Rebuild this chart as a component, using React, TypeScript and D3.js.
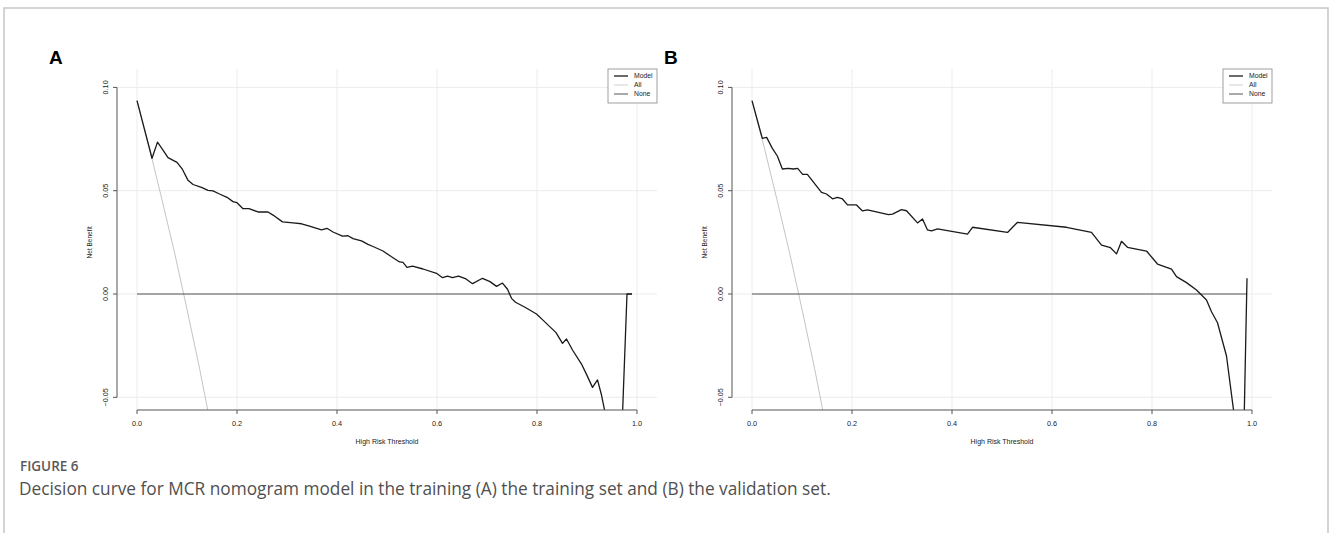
import { useEffect, useRef } from 'react';
import * as d3 from 'd3';

// thresholds / net benefit
const modelAT = [0, 0.03, 0.041, 0.051, 0.062, 0.08, 0.091, 0.102, 0.112, 0.129, 0.142, 0.152, 0.165, 0.18, 0.192, 0.2, 0.212, 0.224, 0.242, 0.262, 0.272, 0.291, 0.312, 0.329, 0.345, 0.369, 0.38, 0.392, 0.411, 0.422, 0.432, 0.449, 0.462, 0.472, 0.492, 0.509, 0.525, 0.532, 0.54, 0.551, 0.572, 0.599, 0.611, 0.621, 0.631, 0.643, 0.658, 0.671, 0.691, 0.706, 0.719, 0.731, 0.741, 0.749, 0.757, 0.776, 0.799, 0.813, 0.838, 0.851, 0.859, 0.871, 0.889, 0.899, 0.911, 0.921, 0.929, 0.94, 0.95, 0.96, 0.97, 0.98, 0.99];
const modelAV = [0.0936, 0.0657, 0.0735, 0.07, 0.066, 0.0637, 0.0603, 0.055, 0.053, 0.0516, 0.0502, 0.0499, 0.0484, 0.0468, 0.0447, 0.0442, 0.0413, 0.0413, 0.0397, 0.0397, 0.0382, 0.0349, 0.0344, 0.034, 0.0328, 0.031, 0.0318, 0.03, 0.028, 0.0282, 0.0268, 0.0257, 0.024, 0.023, 0.0208, 0.018, 0.0155, 0.0153, 0.0129, 0.0135, 0.0121, 0.01, 0.0079, 0.0086, 0.0079, 0.0087, 0.0073, 0.005, 0.0076, 0.006, 0.0037, 0.0053, 0.0023, -0.0021, -0.004, -0.0064, -0.0097, -0.0129, -0.0187, -0.0239, -0.0218, -0.0271, -0.0339, -0.0389, -0.0452, -0.0416, -0.0489, -0.062, -0.075, -0.09, -0.065, 0, 0];

const modelBT = [0, 0.016, 0.0207, 0.0293, 0.0407, 0.0507, 0.0607, 0.0727, 0.0827, 0.0913, 0.1013, 0.1107, 0.139, 0.149, 0.161, 0.171, 0.181, 0.191, 0.209, 0.221, 0.231, 0.273, 0.281, 0.299, 0.309, 0.331, 0.341, 0.351, 0.359, 0.371, 0.431, 0.441, 0.511, 0.531, 0.629, 0.679, 0.699, 0.717, 0.729, 0.739, 0.751, 0.789, 0.811, 0.839, 0.849, 0.869, 0.889, 0.909, 0.919, 0.931, 0.949, 0.963, 0.97, 0.98, 0.99];
const modelBV = [0.0936, 0.0794, 0.0753, 0.0758, 0.0705, 0.0668, 0.0605, 0.0608, 0.0605, 0.0608, 0.0579, 0.0579, 0.0492, 0.0484, 0.0461, 0.0468, 0.046, 0.0431, 0.0431, 0.0402, 0.0407, 0.0384, 0.0387, 0.0408, 0.0403, 0.0344, 0.0363, 0.031, 0.0305, 0.0315, 0.029, 0.0323, 0.0298, 0.0347, 0.0323, 0.0298, 0.0237, 0.0224, 0.0194, 0.0255, 0.0226, 0.0208, 0.0145, 0.012, 0.0084, 0.0055, 0.0019, -0.0029, -0.0086, -0.0139, -0.03, -0.0561, -0.075, -0.112, 0.0076];

// "All" (treat everyone) is the same in both panels
const allT = [0, 0.025, 0.05, 0.075, 0.1, 0.125, 0.15, 0.2];
const allV = [0.0936, 0.0704, 0.0456, 0.0201, -0.0074, -0.0359, -0.0667, -0.1334];

const noneT = [0, 0.99];
const noneV = [0, 0];

const xTicks = [0, 0.2, 0.4, 0.6, 0.8, 1.0];
const yTicks = [-0.05, 0, 0.05, 0.1];
const legendLabels = ['Model', 'All', 'None'];

const panels = [
  { id: 'A', left: 0, t: modelAT, v: modelAV },
  { id: 'B', left: 615, t: modelBT, v: modelBV },
];

const App = () => {
  const ref = useRef<SVGSVGElement>(null);

  useEffect(() => {
    const svg = d3.select(ref.current);
    svg.selectAll('*').remove();

    // outer frame of the figure
    svg.append('path')
      .attr('d', 'M4,533 V8 H1328 V533')
      .attr('fill', 'none')
      .attr('stroke', '#c6c6c6')
      .attr('stroke-width', 1.5);

    const font = '"Liberation Sans", Arial, sans-serif';

    panels.forEach((p, i) => {
      const x = d3.scaleLinear().domain([0, 1]).range([137 + p.left, 637 + p.left]);
      const y = d3.scaleLinear().domain([0, 0.05]).range([294, 190.7]);
      const plotL = 117 + p.left;
      const plotR = 657 + p.left;
      const plotT = 69;
      const plotB = 410;

      const g = svg.append('g');

      g.append('text')
        .attr('x', 49 + p.left)
        .attr('y', 64)
        .attr('font-family', font)
        .attr('font-weight', 'bold')
        .attr('font-size', 19)
        .text(p.id);

      // grid
      g.selectAll('.vg').data(xTicks).enter().append('line')
        .attr('x1', d => x(d)).attr('x2', d => x(d))
        .attr('y1', plotT).attr('y2', plotB)
        .attr('stroke', '#ececec').attr('stroke-width', 1);
      g.selectAll('.hg').data(yTicks).enter().append('line')
        .attr('x1', plotL).attr('x2', plotR)
        .attr('y1', d => y(d)).attr('y2', d => y(d))
        .attr('stroke', '#ececec').attr('stroke-width', 1);

      const clipId = `clip${i}`;
      svg.append('clipPath').attr('id', clipId)
        .append('rect')
        .attr('x', plotL).attr('y', plotT)
        .attr('width', plotR - plotL).attr('height', plotB - plotT);

      const line = d3.line<[number, number]>().x(d => x(d[0])).y(d => y(d[1]));
      const lines = g.append('g').attr('clip-path', `url(#${clipId})`);

      lines.append('path')
        .attr('d', line(allT.map((t, k) => [t, allV[k]])))
        .attr('fill', 'none').attr('stroke', '#c4c4c4').attr('stroke-width', 1);
      lines.append('path')
        .attr('d', line(noneT.map((t, k) => [t, noneV[k]])))
        .attr('fill', 'none').attr('stroke', '#555').attr('stroke-width', 1.1);
      lines.append('path')
        .attr('d', line(p.t.map((t, k) => [t, p.v[k]])))
        .attr('fill', 'none').attr('stroke', '#1a1a1a').attr('stroke-width', 1.3)
        .attr('stroke-linejoin', 'round');

      // x axis
      g.append('line')
        .attr('x1', x(0)).attr('x2', x(1)).attr('y1', plotB).attr('y2', plotB)
        .attr('stroke', '#555').attr('stroke-width', 1);
      g.selectAll('.xt').data(xTicks).enter().append('line')
        .attr('x1', d => x(d)).attr('x2', d => x(d))
        .attr('y1', plotB).attr('y2', plotB + 4)
        .attr('stroke', '#555');
      g.selectAll('.xl').data(xTicks).enter().append('text')
        .attr('x', d => x(d)).attr('y', 426)
        .attr('text-anchor', 'middle')
        .attr('font-family', font).attr('font-size', 7.3).attr('fill', '#222')
        .text(d => d3.format('.1f')(d));
      g.append('text')
        .attr('x', x(0.5)).attr('y', 443.5)
        .attr('text-anchor', 'middle')
        .attr('font-family', font).attr('font-size', 7).attr('fill', '#222')
        .text('High Risk Threshold');

      // y axis
      g.append('line')
        .attr('x1', plotL).attr('x2', plotL)
        .attr('y1', y(0.1)).attr('y2', y(-0.05))
        .attr('stroke', '#555');
      g.selectAll('.yt').data(yTicks).enter().append('line')
        .attr('x1', plotL - 4).attr('x2', plotL)
        .attr('y1', d => y(d)).attr('y2', d => y(d))
        .attr('stroke', '#555');
      g.selectAll('.yl').data(yTicks).enter().append('text')
        .attr('transform', d => `translate(${plotL - 9.5},${y(d)}) rotate(-90)`)
        .attr('text-anchor', 'middle')
        .attr('font-family', font).attr('font-size', 7.3).attr('fill', '#222')
        .text(d => d3.format('.2f')(d));
      g.append('text')
        .attr('transform', `translate(${92 + p.left},${(y(0.1) + y(-0.05)) / 2}) rotate(-90)`)
        .attr('text-anchor', 'middle')
        .attr('font-family', font).attr('font-size', 6.5).attr('fill', '#222')
        .text('Net Benefit');

      // legend
      const lx = 608 + p.left;
      const lg = g.append('g');
      lg.append('rect')
        .attr('x', lx).attr('y', 69).attr('width', 49).attr('height', 34)
        .attr('fill', '#fff').attr('stroke', '#888').attr('stroke-width', 0.8);
      const legendStyle = [
        { c: '#1a1a1a', w: 1.3 },
        { c: '#d0d0d0', w: 1 },
        { c: '#555', w: 1 },
      ];
      legendLabels.forEach((lab, k) => {
        const ly = 76 + k * 9;
        lg.append('line')
          .attr('x1', lx + 6).attr('x2', lx + 20)
          .attr('y1', ly).attr('y2', ly)
          .attr('stroke', legendStyle[k].c).attr('stroke-width', legendStyle[k].w);
        lg.append('text')
          .attr('x', lx + 26).attr('y', ly + 2.4)
          .attr('font-family', font).attr('font-size', 6.8).attr('fill', '#222')
          .text(lab);
      });
    });

    // caption
    svg.append('text')
      .attr('x', 20).attr('y', 471)
      .attr('font-family', '"Open Sans", sans-serif')
      .attr('font-weight', 600).attr('font-size', 13.5).attr('fill', '#595959')
      .text('FIGURE 6');
    svg.append('text')
      .attr('x', 19).attr('y', 495)
      .attr('font-family', '"Open Sans", sans-serif')
      .attr('font-size', 17.25).attr('fill', '#505050')
      .text('Decision curve for MCR nomogram model in the training (A) the training set and (B) the validation set.');
  }, []);

  return (
    <svg ref={ref} width={1330} height={533}
      style={{ position: 'absolute', left: 0, top: 0, background: '#fff' }} />
  );
};

export default App;
